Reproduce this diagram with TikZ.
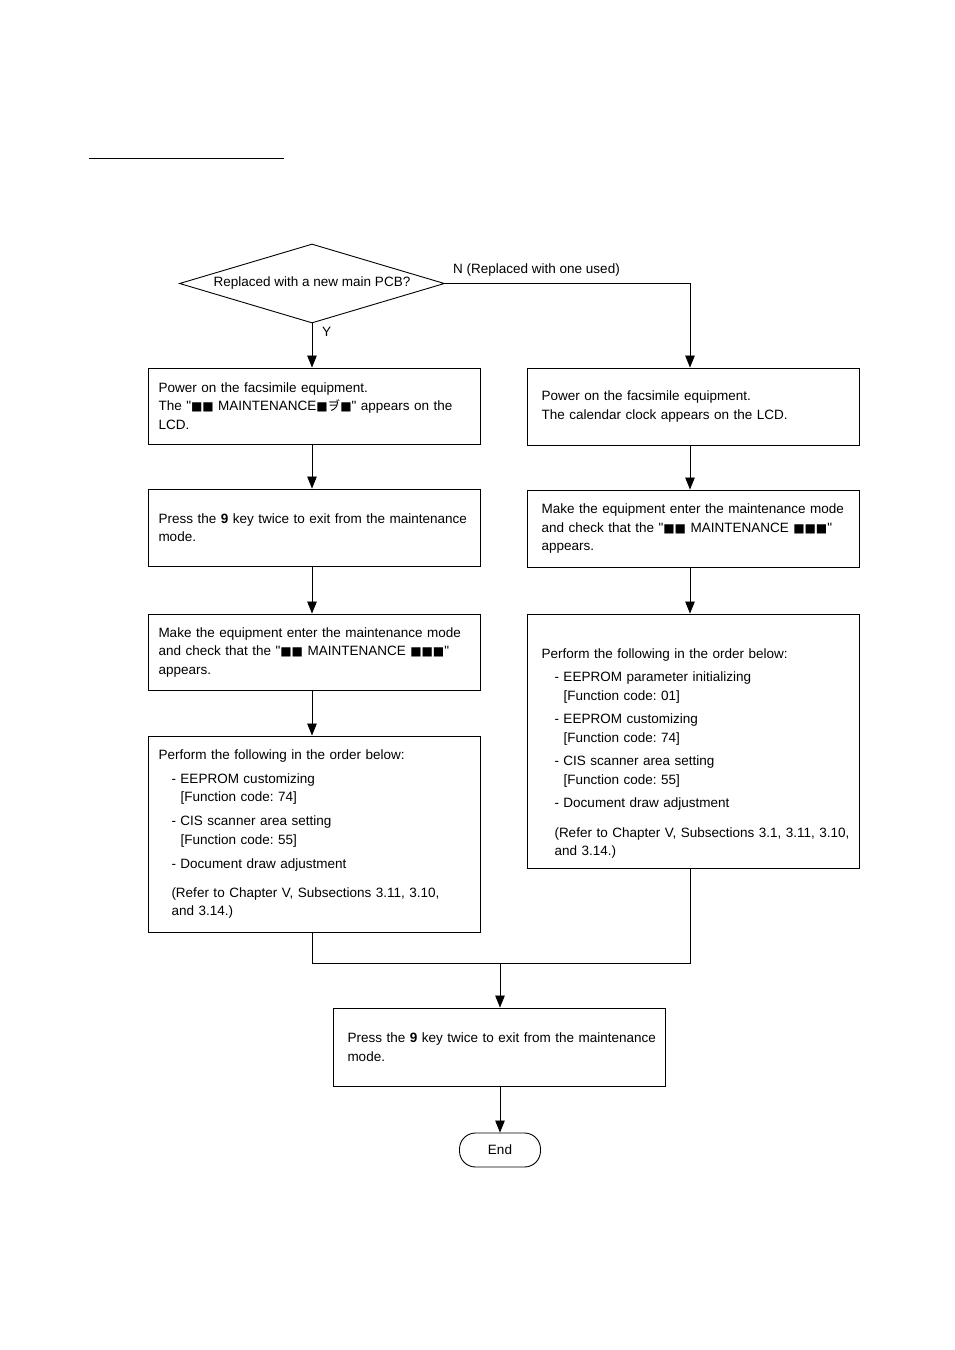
\documentclass[tikz,border=0pt]{standalone}
\usepackage{fontspec}
\setmainfont{Liberation Sans}[Ligatures=TeXOff]
\newfontfamily\sqfont{DejaVu Sans}
\newfontfamily\jpfont{Noto Sans CJK JP}
\usetikzlibrary{arrows.meta,shapes.geometric}
\frenchspacing
\newcommand\bsq{{\sqfont\fontsize{12}{10}\selectfont ■}}
\newcommand\kvo{{\jpfont\fontsize{12.5}{10}\selectfont ヺ}}
\newcommand\dq{{\char34}}
\begin{document}
\begin{tikzpicture}[x=1pt,y=-1pt,
  font=\fontsize{13.5}{18.5}\selectfont,
  lbox/.style={draw, line width=0.9pt, inner xsep=10.5pt, inner ysep=0pt, text width=311pt, minimum width=332pt, align=left},
  rbox/.style={draw, line width=0.9pt, inner xsep=14.5pt, inner ysep=0pt, text width=303pt, minimum width=332pt, align=left},
  dec/.style={diamond, draw, line width=0.9pt, aspect=3.35, inner sep=0pt, minimum width=265pt, minimum height=79pt},
  term/.style={draw, line width=0.9pt, rounded corners=16pt, minimum width=81pt, minimum height=34pt, inner sep=0pt},
  lbl/.style={inner sep=0pt, anchor=base west},
  arr/.style={-{Triangle[length=12pt,width=9.5pt]}, line width=0.8pt},
  conn/.style={line width=0.8pt}]
\useasboundingbox (0,0) rectangle (954,1350);
\draw[line width=1pt] (89,158) -- (284,158);

\node[dec] (D) at (312,283.5) {Replaced with a new main PCB?};
\node[lbl] (nlab) at (453,273) {N (Replaced with one used)};
\node[lbl] (ylab) at (322,336) {Y};

\node[lbox, minimum height=76pt] (L1) at (314,406) {Power on the facsimile equipment.\\ The \dq\bsq\bsq{} MAINTENANCE\bsq\kvo\bsq\dq{} appears on the\\ LCD.};
\node[lbox, minimum height=77pt] (L2) at (314,527.5) {\mbox{Press the \textbf{9} key twice to exit from the maintenance}\\ mode.};
\node[lbox, minimum height=76pt] (L3) at (314,652) {\mbox{Make the equipment enter the maintenance mode}\\ and check that the \dq\bsq\bsq{} MAINTENANCE \bsq\bsq\bsq\dq\\ appears.};
\node[lbox, minimum height=196pt] (L4) at (314,834) {Perform the following in the order below:\\[5.5pt]
\hspace*{13pt}- EEPROM customizing\\
\hspace*{22pt}[Function code: 74]\\[5.5pt]
\hspace*{13pt}- CIS scanner area setting\\
\hspace*{22pt}[Function code: 55]\\[5.5pt]
\hspace*{13pt}- Document draw adjustment\\[10.5pt]
\hspace*{13pt}\mbox{(Refer to Chapter V, Subsections 3.11, 3.10,}\\
\hspace*{13pt}and 3.14.)};

\node[rbox, minimum height=77pt] (R1) at (693,406.5) {Power on the facsimile equipment.\\ The calendar clock appears on the LCD.};
\node[rbox, minimum height=77pt] (R2) at (693,528.5) {\mbox{Make the equipment enter the maintenance mode}\\ \mbox{and check that the \dq\bsq\bsq{} MAINTENANCE \bsq\bsq\bsq\dq}\\ appears.};
\node[rbox, minimum height=254pt] (R3) at (693,741) {\mbox{}\\[16.5pt]Perform the following in the order below:\\[5pt]
\hspace*{13pt}- EEPROM parameter initializing\\
\hspace*{22pt}[Function code: 01]\\[5pt]
\hspace*{13pt}- EEPROM customizing\\
\hspace*{22pt}[Function code: 74]\\[5pt]
\hspace*{13pt}- CIS scanner area setting\\
\hspace*{22pt}[Function code: 55]\\[5pt]
\hspace*{13pt}- Document draw adjustment\\[11pt]
\hspace*{13pt}\mbox{(Refer to Chapter V, Subsections 3.1, 3.11, 3.10,}\\
\hspace*{13pt}and 3.14.)};

\node[rbox, minimum height=78pt] (B) at (499,1047) {\mbox{Press the \textbf{9} key twice to exit from the maintenance}\\ mode.};
\node[term] (E) at (500,1150) {End};

\coordinate (nc) at (690,283.5);
\coordinate (m) at (500,963);

\draw[arr] (D.south) -- (D.south |- L1.north);
\draw[arr] (D.south |- L1.south) -- (D.south |- L2.north);
\draw[arr] (D.south |- L2.south) -- (D.south |- L3.north);
\draw[arr] (D.south |- L3.south) -- (D.south |- L4.north);

\draw[arr] (D.east) -- (nc) -- (nc |- R1.north);
\draw[arr] (nc |- R1.south) -- (nc |- R2.north);
\draw[arr] (nc |- R2.south) -- (nc |- R3.north);

\draw[conn] (D.south |- L4.south) -- (D.south |- m) -- (nc |- m) -- (nc |- R3.south);
\draw[arr] (m) -- (m |- B.north);
\draw[arr] (m |- B.south) -- (E.north);
\end{tikzpicture}
\end{document}
